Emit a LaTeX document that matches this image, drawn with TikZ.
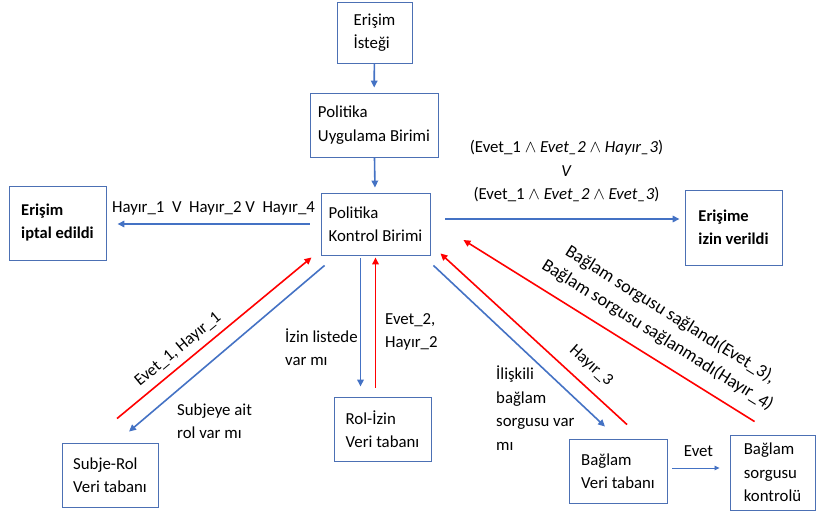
\documentclass[tikz,border=0pt]{standalone}
\usepackage{fontspec}
\setmainfont{Carlito}
\usetikzlibrary{arrows.meta}

\definecolor{cerceve}{RGB}{76,112,180}
\definecolor{mavi}{RGB}{68,114,196}
\definecolor{kirmizi}{RGB}{255,0,0}

\tikzset{
  every node/.style={font=\fontsize{16.8}{23.5}\selectfont},
  kutu/.style={draw=cerceve, line width=0.9pt, align=left, inner sep=0pt},
  kalin/.style={font=\fontsize{16.5}{23}\selectfont\bfseries},
  etiket/.style={align=left, inner sep=1pt},
  okMavi/.style={draw=mavi, line width=1.6pt, -{Triangle[length=7pt,width=6.5pt]}},
  okKirmizi/.style={draw=kirmizi, line width=1.6pt, -{Triangle[length=7pt,width=6.5pt]}},
  okInce/.style={draw=mavi, line width=0.8pt, -{Triangle[length=5pt,width=4.5pt]}}
}

\begin{document}
\begin{tikzpicture}[x=1pt, y=-1pt]
  \useasboundingbox (0,0) rectangle (816,513);

  % Kutular
  \node[kutu, minimum width=75pt, minimum height=61pt] (istek) at (374.5,32.5) {Erişim\\İsteği};
  \node[kutu, minimum width=128pt, minimum height=64pt] (uygulama) at (374,125) {Politika\\Uygulama Birimi};
  \node[kutu, minimum width=109pt, minimum height=62pt] (kontrol) at (375.5,224) {Politika\\Kontrol Birimi};
  \node[kutu, kalin, minimum width=97pt, minimum height=74pt] (iptal) at (57.5,223) {Erişim\\iptal edildi};
  \node[kutu, kalin, minimum width=97pt, minimum height=75pt] (izin) at (733.5,227.5) {Erişime\\izin verildi};
  \node[kutu, minimum width=96pt, minimum height=64pt] (subjerol) at (110,475) {Subje-Rol\\Veri tabanı};
  \node[kutu, minimum width=97pt, minimum height=64pt] (rolizin) at (382.5,429) {Rol-İzin\\Veri tabanı};
  \node[kutu, minimum width=98pt, minimum height=64pt] (baglamvt) at (618,471) {Bağlam\\Veri tabanı};
  \node[kutu, minimum width=85pt, minimum height=75pt] (sorgu) at (772.5,472.5) {Bağlam\\sorgusu\\kontrolü};

  % Ust akis
  \draw[okMavi, shorten >=5pt] (istek) -- (uygulama);
  \draw[okMavi, shorten >=5pt] (uygulama) -- (kontrol);

  % Sonuclar
  \draw[okMavi, shorten <=11pt, shorten >=11pt] (kontrol.west) -- (kontrol.west -| iptal.east)
    node[midway, above=5pt] (hayirEtiket) {Hayır\_1\ \ V\ \ Hayır\_2 V\ \ Hayır\_4};
  \draw[okMavi, shorten <=15pt, shorten >=5pt] ([yshift=5pt]kontrol.east) -- ([yshift=5pt]kontrol.east -| izin.west)
    node[midway, above=13pt, xshift=9pt, align=center] (izinEtiket)
    {(Evet\_1 $\wedge$ \textit{Evet\_2} $\wedge$ \textit{Hayır\_3})\\\textit{V}\\(Evet\_1 $\wedge$ \textit{Evet\_2} $\wedge$ \textit{Evet\_3})};

  % Subje-Rol
  \draw[okKirmizi] ([shift={(7pt,24pt)}]subjerol.north) -- ([shift={(-9pt,-2pt)}]kontrol.south west)
    node[pos=0.36, above=3pt, sloped] (evet1) {Evet\_1, Hayır\_1};
  \draw[okMavi] ([shift={(4pt,-10pt)}]kontrol.south west) -- ([shift={(19pt,11pt)}]subjerol.north);
  \node[etiket, anchor=west] (subjeSoru) at (176,421) {Subjeye ait\\rol var mı};

  % Rol-Izin
  \draw[okMavi] ([shift={(-15pt,-3pt)}]kontrol.south) -- ([shift={(-22pt,10pt)}]rolizin.north);
  \draw[okKirmizi] ([shift={(-7pt,9pt)}]rolizin.north) -- ([shift={(0pt,-2pt)}]kontrol.south);
  \node[etiket, anchor=west] (izinSoru) at (284,347) {İzin listede\\var mı};
  \node[etiket, anchor=west] (evet2) at (384,332) {Evet\_2,\\Hayır\_2};

  % Baglam
  \draw[okMavi] ([shift={(3pt,-10pt)}]kontrol.south east) -- ([shift={(-13pt,12pt)}]baglamvt.north);
  \draw[okKirmizi] ([shift={(9pt,14pt)}]baglamvt.north) -- ([shift={(10pt,2pt)}]kontrol.south east);
  \draw[okKirmizi] ([shift={(25pt,13pt)}]sorgu.north west) -- ([shift={(33pt,-16pt)}]kontrol.east);
  \node[etiket, anchor=west] (iliskiSoru) at (495,408) {İlişkili\\bağlam\\sorgusu var\\mı};
  \node[etiket, rotate=-42] (hayir3) at (591,366) {Hayır\_3};
  \node[etiket, rotate=-32, align=center, font=\fontsize{18}{24}\selectfont] (baglamEtiket) at (664,325)
    {Bağlam sorgusu sağlandı(Evet\_3),\\Bağlam sorgusu sağlanmadı(Hayır\_4)};

  \draw[okInce, shorten <=5pt, shorten >=10pt] ([yshift=3pt]baglamvt.east) -- ([yshift=3pt]baglamvt.east -| sorgu.west)
    node[midway, above=8pt] (evetEtiket) {Evet};
\end{tikzpicture}
\end{document}
